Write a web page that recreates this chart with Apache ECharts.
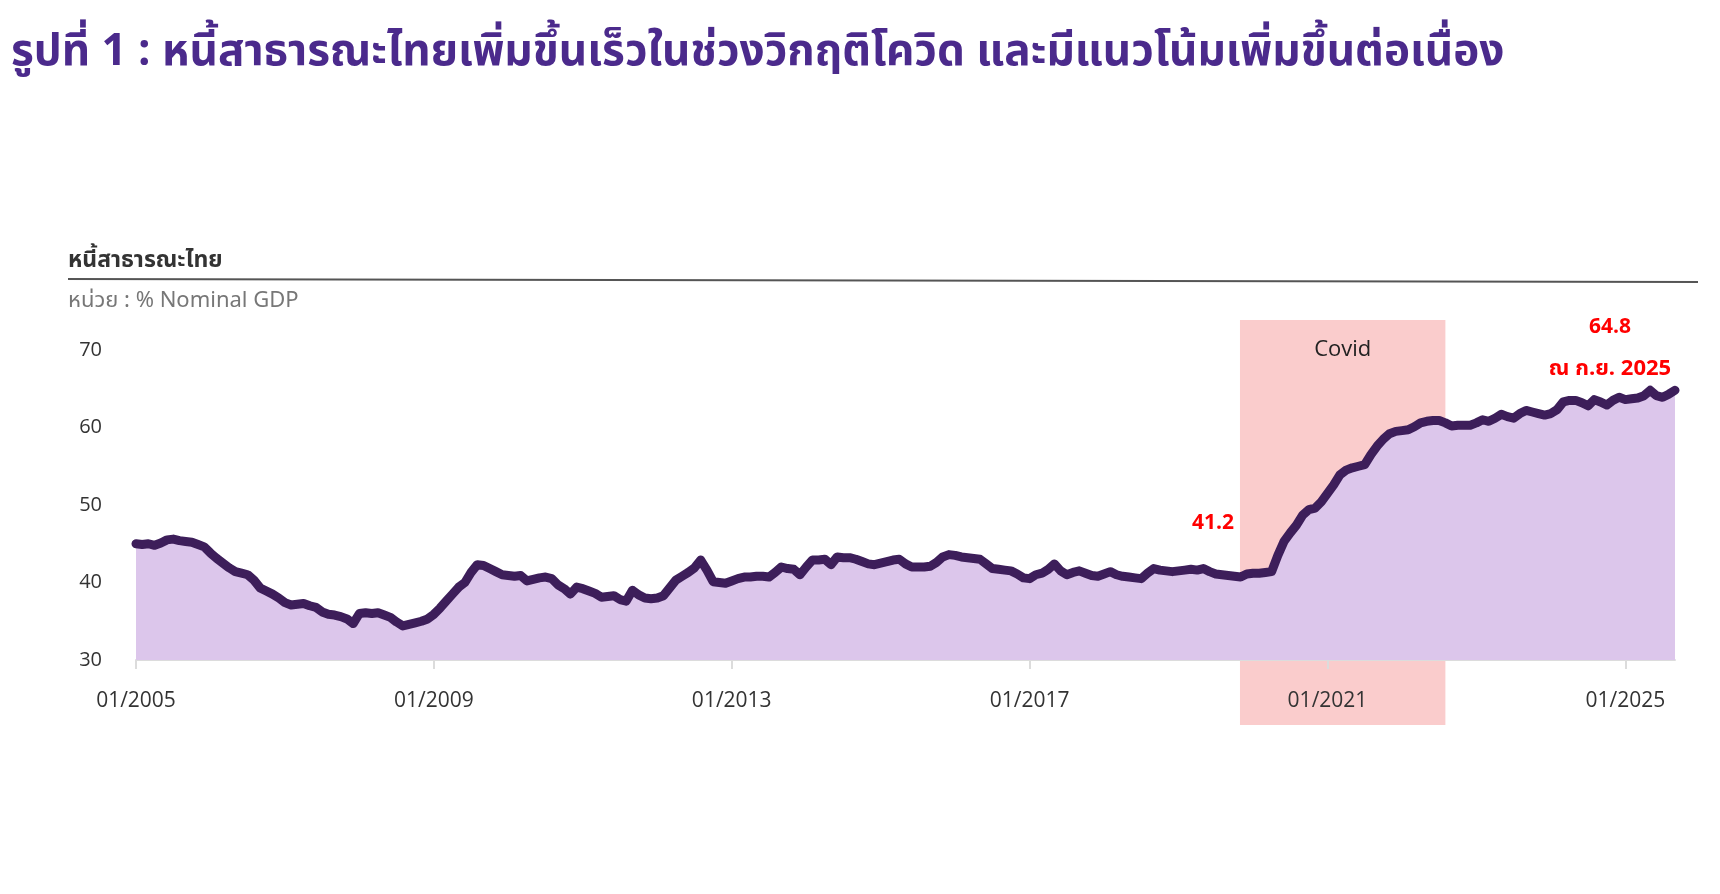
<!DOCTYPE html>
<html><head><meta charset="utf-8">
<script src="https://cdn.jsdelivr.net/npm/echarts@6/dist/echarts.min.js"></script>
<style>html,body{margin:0;padding:0;background:#fff;}#c{width:1720px;height:894px;}</style>
</head><body><div id="c"></div>
<script>
var years = ['2005','2006','2007','2008','2009','2010','2011','2012','2013','2014','2015','2016','2017','2018','2019','2020','2021','2022','2023','2024','2025'];
var debt2005 = [45.0,44.9,45.0,44.8,45.1,45.5,45.6,45.4,45.3,45.2,44.9,44.6];
var debt2006 = [43.8,43.1,42.5,41.9,41.4,41.2,41.0,40.3,39.3,38.9,38.5,38.0];
var debt2007 = [37.4,37.1,37.2,37.3,37.0,36.8,36.2,35.9,35.8,35.6,35.3,34.7];
var debt2008 = [36.0,36.1,36.0,36.1,35.8,35.5,34.9,34.4,34.6,34.8,35.0,35.3];
var debt2009 = [35.9,36.7,37.6,38.5,39.4,40.0,41.3,42.3,42.2,41.8,41.4,41.0];
var debt2010 = [40.9,40.8,40.9,40.2,40.4,40.6,40.7,40.5,39.7,39.2,38.5,39.4];
var debt2011 = [39.2,38.9,38.6,38.1,38.2,38.3,37.8,37.6,39.0,38.4,38.0,37.9];
var debt2012 = [38.0,38.3,39.3,40.3,40.8,41.3,41.9,42.9,41.6,40.1,40.0,39.9];
var debt2013 = [40.2,40.5,40.7,40.7,40.8,40.8,40.7,41.3,42.0,41.8,41.7,41.0];
var debt2014 = [42.0,42.9,42.9,43.0,42.3,43.3,43.2,43.2,43.0,42.7,42.4,42.3];
var debt2015 = [42.5,42.7,42.9,43.0,42.4,42.0,42.0,42.0,42.1,42.6,43.3,43.6];
var debt2016 = [43.5,43.3,43.2,43.1,43.0,42.4,41.8,41.7,41.6,41.5,41.1,40.6];
var debt2017 = [40.5,41.0,41.2,41.7,42.4,41.5,41.0,41.3,41.5,41.2,40.9,40.8];
var debt2018 = [41.1,41.4,41.0,40.8,40.7,40.6,40.5,41.2,41.8,41.6,41.5,41.4];
var debt2019 = [41.5,41.6,41.7,41.6,41.8,41.4,41.1,41.0,40.9,40.8,40.7,41.1];
var debt2020 = [41.2,41.2,41.3,41.4,43.5,45.3,46.4,47.4,48.7,49.4,49.6,50.4];
var debt2021 = [51.5,52.6,53.9,54.5,54.8,55.0,55.2,56.5,57.6,58.5,59.2,59.5];
var debt2022 = [59.6,59.7,60.1,60.6,60.8,60.9,60.9,60.6,60.2,60.3,60.3,60.3];
var debt2023 = [60.6,61.0,60.8,61.2,61.7,61.4,61.2,61.8,62.2,62.0,61.8,61.6];
var debt2024 = [61.8,62.3,63.3,63.5,63.5,63.2,62.8,63.6,63.3,62.9,63.5,63.9];
var debt2025 = [63.6,63.7,63.8,64.1,64.8,64.1,63.9,64.3,64.8];
var yTicks = [30,40,50,60,70];
var covidStart = '10/2019', covidEnd = '08/2022';
var preCovidLabel = '41.2', preCovidMonth = '01/2020';
var lastLabel = '64.8', lastNote = 'ณ ก.ย. 2025';

var yearly = [debt2005,debt2006,debt2007,debt2008,debt2009,debt2010,debt2011,debt2012,debt2013,debt2014,debt2015,debt2016,debt2017,debt2018,debt2019,debt2020,debt2021,debt2022,debt2023,debt2024,debt2025];
var months = [], values = [];
yearly.forEach(function(arr, yi){
  arr.forEach(function(v, mi){
    months.push((mi+1<10?'0':'')+(mi+1)+'/'+years[yi]);
    values.push(v);
  });
});
var lastIdx = values.length-1;
var preIdx = months.indexOf(preCovidMonth);

var thai = '"Noto Sans Thai","Noto Sans Thai UI","Noto Sans","DejaVu Sans",sans-serif';
var latin = '"Open Sans","Noto Sans",sans-serif';
var chart = echarts.init(document.getElementById('c'));
chart.setOption({
  animation:false,
  title:[{text:'รูปที่ 1 : หนี้สาธารณะไทยเพิ่มขึ้นเร็วในช่วงวิกฤติโควิด และมีแนวโน้มเพิ่มขึ้นต่อเนื่อง',left:6,top:29,
    textStyle:{fontFamily:thai,fontSize:44,fontWeight:'bold',color:'#4b2a8c'}},
    {text:'หนี้สาธารณะไทย',left:63,top:246,textStyle:{fontFamily:thai,fontSize:23,fontWeight:'bold',color:'#333'}},
    {text:'หน่วย : % Nominal GDP',left:63,top:287,textStyle:{fontFamily:thai,fontSize:22,fontWeight:'normal',color:'#777'}}],
  grid:{left:136,right:45,top:350,bottom:234,containLabel:false},
  xAxis:{type:'category',data:months,boundaryGap:false,
    axisLine:{lineStyle:{color:'#dcdcdc',width:2}},
    axisTick:{interval:47,length:9,lineStyle:{color:'#dcdcdc',width:2}},
    axisLabel:{interval:47,margin:31,color:'#333',fontSize:21,fontFamily:latin}},
  yAxis:{type:'value',min:yTicks[0],max:yTicks[yTicks.length-1],interval:10,
    axisLine:{show:false},axisTick:{show:false},splitLine:{show:false},
    axisLabel:{margin:34,color:'#333',fontSize:20,fontFamily:latin}},
  series:[{type:'line',data:values,showSymbol:false,symbol:'none',z:5,
    lineStyle:{color:'#3d1e5a',width:9,join:'round',cap:'round'},
    areaStyle:{color:'#dcc6eb',opacity:1},
    markPoint:{symbol:'circle',symbolSize:0,silent:true,
      data:[
        {coord:[preIdx,values[preIdx]],label:{show:true,formatter:preCovidLabel,offset:[-40,-50],color:'#f00',fontWeight:'bold',fontSize:21,fontFamily:latin}},
        {coord:[lastIdx,values[lastIdx]],label:{show:true,formatter:lastLabel,offset:[-65,-63],color:'#f00',fontWeight:'bold',fontSize:21,fontFamily:latin}},
        {coord:[lastIdx,values[lastIdx]],label:{show:true,formatter:lastNote,offset:[-65,-20],color:'#f00',fontWeight:'bold',fontSize:22,fontFamily:thai}}
      ]}
  }]
});
function drawExtras(){
  var i0 = months.indexOf(covidStart), i1 = months.indexOf(covidEnd);
  var x0 = chart.convertToPixel({xAxisIndex:0}, i0);
  var x0b = chart.convertToPixel({xAxisIndex:0}, i0+1);
  var x1 = chart.convertToPixel({xAxisIndex:0}, i1);
  var step = x0b - x0;
  var left = x0 + 0.9*step, right = x1;
  var yTop = chart.convertToPixel({yAxisIndex:0}, yTicks[yTicks.length-1]);
  var yBot = chart.convertToPixel({yAxisIndex:0}, yTicks[0]);
  var lineY = yTop - 71;
  chart.setOption({graphic:[
    {type:'rect',z:-1,shape:{x:left,y:yTop-30,width:right-left,height:(yBot+65)-(yTop-30)},style:{fill:'#facccc'}},
    {type:'text',z:10,x:(left+right)/2,y:yTop,style:{text:'Covid',fill:'#222',fontSize:22,fontFamily:latin,align:'center',verticalAlign:'middle'}},
    {type:'line',z:10,shape:{x1:68,y1:lineY,x2:1698,y2:lineY+3},style:{stroke:'#555',lineWidth:2}}
  ]});
}
drawExtras();
</script></body></html>
